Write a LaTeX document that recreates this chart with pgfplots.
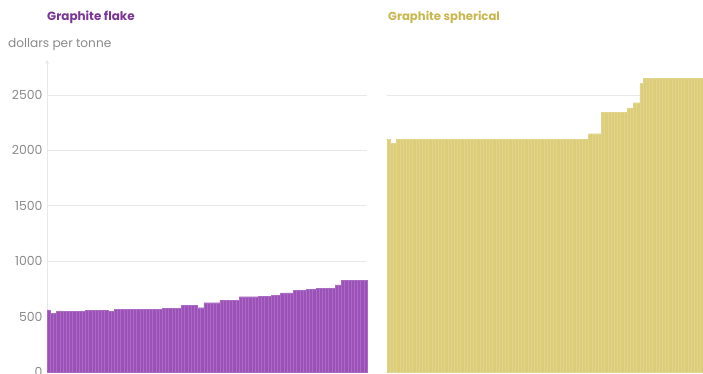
\documentclass[border=0pt]{standalone}
\usepackage{pgfplots}
\pgfplotsset{compat=1.18}
\usepackage{fontspec}
\setmainfont{Poppins}
\definecolor{flake}{HTML}{9B51B7}
\definecolor{flakeT}{HTML}{7A3596}
\definecolor{sph}{HTML}{DCCD79}
\definecolor{sphT}{HTML}{C8B74E}
\definecolor{gridc}{HTML}{E8E8E8}
\definecolor{tickc}{HTML}{8A8A8A}
\pgfplotsset{panel/.style={
  scale only axis, width=320bp, height=312bp,
  xmin=-0.5, xmax=99.5, ymin=0, ymax=2815,
  ybar, bar width=1, bar shift=0,
  axis lines=left, x axis line style={draw=none},
  xtick=\empty, ytick={0,500,1000,1500,2000,2500},
  major tick length=0pt,
  ymajorgrids, grid style={gridc, line width=0.8bp},
  /pgf/number format/assume math mode=true,
  /pgf/number format/1000 sep={},
  yticklabel style={text=tickc, font=\fontsize{12.5}{14}\selectfont, xshift=-1bp},
  anchor=south west, clip=false}}
\begin{document}
\begin{tikzpicture}
\path[use as bounding box] (0,0) rectangle (703bp,374bp);
\begin{axis}[panel, at={(47bp,2bp)}, y axis line style={gridc, line width=0.8bp}]
\addplot[fill=flake, draw=flake!85!white, line width=0.25bp] coordinates {
(0,560) (1,530) (2,530) (3,545) (4,545) (5,545) (6,545) (7,545) (8,545) (9,545)
(10,545) (11,545) (12,555) (13,555) (14,555) (15,555) (16,555) (17,555) (18,555) (19,550)
(20,550) (21,565) (22,565) (23,565) (24,565) (25,565) (26,565) (27,565) (28,565) (29,565)
(30,565) (31,565) (32,565) (33,565) (34,565) (35,565) (36,575) (37,575) (38,575) (39,575)
(40,575) (41,575) (42,600) (43,600) (44,600) (45,600) (46,600) (47,580) (48,580) (49,625)
(50,625) (51,625) (52,625) (53,625) (54,645) (55,645) (56,645) (57,645) (58,645) (59,645)
(60,680) (61,680) (62,680) (63,680) (64,680) (65,680) (66,685) (67,685) (68,685) (69,685)
(70,690) (71,690) (72,690) (73,715) (74,715) (75,715) (76,715) (77,735) (78,735) (79,735)
(80,735) (81,745) (82,745) (83,745) (84,755) (85,755) (86,755) (87,755) (88,755) (89,755)
(90,785) (91,785) (92,825) (93,825) (94,825) (95,825) (96,825) (97,825) (98,825) (99,825)
};
\end{axis}
\begin{axis}[panel, at={(387bp,2bp)}, y axis line style={draw=none}, yticklabels=\empty]
\addplot[fill=sph, draw=sph!85!white, line width=0.25bp] coordinates {
(0,2100) (1,2065) (2,2065) (3,2100) (4,2100) (5,2100) (6,2100) (7,2100) (8,2100) (9,2100)
(10,2100) (11,2100) (12,2100) (13,2100) (14,2100) (15,2100) (16,2100) (17,2100) (18,2100) (19,2100)
(20,2100) (21,2100) (22,2100) (23,2100) (24,2100) (25,2100) (26,2100) (27,2100) (28,2100) (29,2100)
(30,2100) (31,2100) (32,2100) (33,2100) (34,2100) (35,2100) (36,2100) (37,2100) (38,2100) (39,2100)
(40,2100) (41,2100) (42,2100) (43,2100) (44,2100) (45,2100) (46,2100) (47,2100) (48,2100) (49,2100)
(50,2100) (51,2100) (52,2100) (53,2100) (54,2100) (55,2100) (56,2100) (57,2100) (58,2100) (59,2100)
(60,2100) (61,2100) (62,2100) (63,2150) (64,2150) (65,2150) (66,2150) (67,2345) (68,2345) (69,2345)
(70,2345) (71,2345) (72,2345) (73,2345) (74,2345) (75,2380) (76,2380) (77,2430) (78,2430) (79,2605)
(80,2650) (81,2650) (82,2650) (83,2650) (84,2650) (85,2650) (86,2650) (87,2650) (88,2650) (89,2650)
(90,2650) (91,2650) (92,2650) (93,2650) (94,2650) (95,2650) (96,2650) (97,2650) (98,2650) (99,2650)
};
\end{axis}
\node[anchor=west, text=flakeT, font=\bfseries\fontsize{12}{14}\selectfont, inner sep=0pt] at (47bp,357bp) {Graphite flake};
\node[anchor=west, text=sphT, font=\bfseries\fontsize{11.7}{14}\selectfont, inner sep=0pt] at (388bp,357bp) {Graphite spherical};
\node[anchor=west, text=tickc, font=\fontsize{12.2}{14}\selectfont, inner sep=0pt] at (8bp,329bp) {dollars per tonne};
\end{tikzpicture}
\end{document}
